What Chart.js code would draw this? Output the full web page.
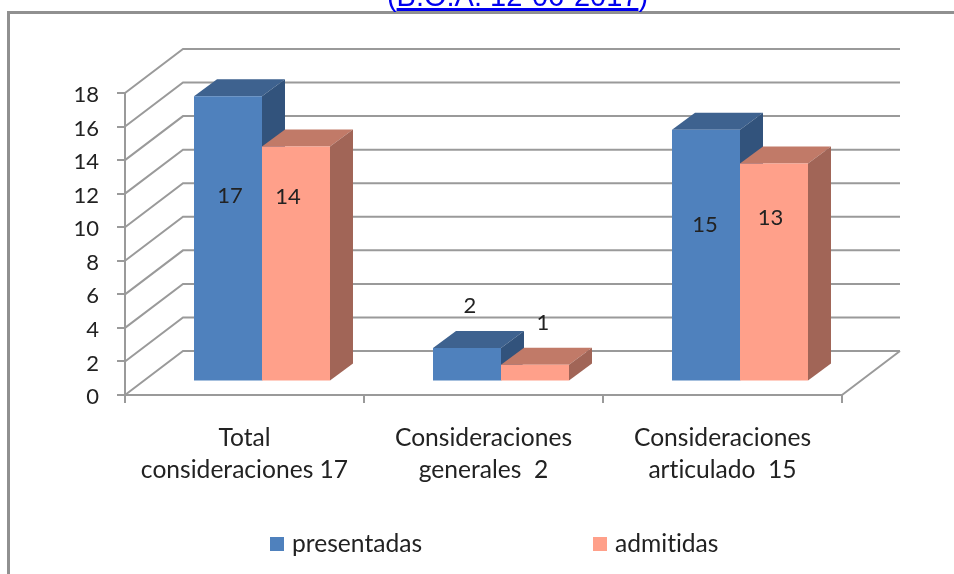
<!DOCTYPE html>
<html>
<head>
<meta charset="utf-8">
<script src="https://cdn.jsdelivr.net/npm/chart.js@4/dist/chart.umd.min.js"></script>
<style>
html, body { margin: 0; padding: 0; background: #fff; overflow: hidden; }
#wrap { position: relative; width: 954px; height: 574px; overflow: hidden; filter: blur(0.4px); }
#frame { position: absolute; left: 7px; top: 11px; width: 960px; height: 580px; border-left: 3px solid #909090; border-top: 3px solid #909090; }
#ref { position: absolute; left: 0; width: 1035px; top: -20px; text-align: center; font: 29px "Liberation Sans", Arial, sans-serif; color: #0000ee; }
#ref a { color: #0000ee; text-decoration: underline; text-decoration-thickness: 3px; text-underline-offset: 2px; }
canvas { position: absolute; left: 0; top: 0; }
#legend { position: absolute; left: 0; top: 0; font: 24.6px Lato, sans-serif; color: #222; font-variant-ligatures: none; }
#legend span { position: absolute; white-space: nowrap; }
#legend i { position: absolute; width: 14px; height: 14px; }
</style>
</head>
<body>
<div id="wrap">
  <div id="frame"></div>
  <div id="ref">(<a href="#">B.O.A. 12-06-2017</a>)</div>
  <canvas id="grafico" width="954" height="574"></canvas>
  <div id="legend"></div>
</div>
<script>
var categorias = [
    ['Total', 'consideraciones 17'],
    ['Consideraciones', 'generales  2'],
    ['Consideraciones', 'articulado  15']
];
var presentadas = [17, 2, 15];
var admitidas = [14, 1, 13];
var marcasY = [0, 2, 4, 6, 8, 10, 12, 14, 16, 18];

// colores: frente, tapa, lateral
var azul = ['#4f81bd', '#3e628f', '#32537c'];
var salmon = ['#ffa08a', '#c17a68', '#a16557'];
var gris = '#9a9a9a';
var texto = '#222';

// profundidad de la pared del fondo y de las barras
var fondoX = 58, fondoY = -44;
var barraX = 17.5, barraY = -13.5;
var ladoX = 23, ladoY = -17;

// las etiquetas estan movidas a mano en el original, desplazamiento desde la tapa
var ajusteX = [[2, 3, -1], [-8, 8, -3.5]];
var ajusteY = [[100, -42, 95], [50, -42, 55]];

function poligono(ctx, color, puntos) {
    ctx.fillStyle = color;
    ctx.beginPath();
    puntos.forEach(function (p, i) {
        if (i == 0) ctx.moveTo(p[0], p[1]);
        else ctx.lineTo(p[0], p[1]);
    });
    ctx.closePath();
    ctx.fill();
}

var paredes = {
    id: 'paredes',
    beforeDraw: function (chart) {
        // sin ligaduras en los textos del canvas
        chart.ctx.textRendering = 'optimizeSpeed';
    },
    beforeDatasetsDraw: function (chart) {
        var ctx = chart.ctx, a = chart.chartArea, y = chart.scales.y;
        ctx.save();
        ctx.strokeStyle = gris;
        ctx.lineWidth = 2;
        ctx.beginPath();
        marcasY.forEach(function (v) {
            var py = y.getPixelForValue(v);
            ctx.moveTo(a.left, py);
            ctx.lineTo(a.left + fondoX, py + fondoY);
            ctx.lineTo(a.right + fondoX, py + fondoY);
        });
        // borde derecho del suelo
        ctx.moveTo(a.right, a.bottom);
        ctx.lineTo(a.right + fondoX, a.bottom + fondoY);
        ctx.stroke();
        ctx.restore();
    }
};

var barras3d = {
    id: 'barras3d',
    // se dibujan aqui porque la libreria pinta la primera serie encima y
    // en el original las admitidas tapan el lateral de las presentadas
    beforeDatasetDraw: function () {
        return false;
    },
    afterDatasetsDraw: function (chart) {
        var ctx = chart.ctx;
        ctx.save();
        ctx.translate(barraX, barraY);
        chart.data.datasets.forEach(function (ds, d) {
            chart.getDatasetMeta(d).data.forEach(function (b) {
                var der = b.x + b.width / 2, izq = b.x - b.width / 2;
                poligono(ctx, ds.caras[1], [[izq, b.y], [izq + ladoX, b.y + ladoY], [der + ladoX, b.y + ladoY], [der, b.y]]);
                poligono(ctx, ds.caras[2], [[der, b.y], [der + ladoX, b.y + ladoY], [der + ladoX, b.base + ladoY], [der, b.base]]);
                b.draw(ctx);
            });
        });
        ctx.restore();

        ctx.save();
        ctx.fillStyle = texto;
        ctx.font = '22px Lato, sans-serif';
        ctx.textAlign = 'center';
        ctx.textBaseline = 'middle';
        chart.data.datasets.forEach(function (ds, d) {
            chart.getDatasetMeta(d).data.forEach(function (b, i) {
                ctx.fillText(String(ds.data[i]), b.x + barraX + ajusteX[d][i], b.y + barraY + ajusteY[d][i]);
            });
        });
        ctx.restore();
    }
};

var ctx = document.getElementById('grafico').getContext('2d');
var myChart = new Chart(ctx, {
    type: 'bar',
    data: {
        labels: categorias,
        datasets: [
            { label: 'presentadas', data: presentadas, backgroundColor: azul[0], caras: azul },
            { label: 'admitidas', data: admitidas, backgroundColor: salmon[0], caras: salmon }
        ]
    },
    options: {
        responsive: false,
        animation: false,
        events: [],
        categoryPercentage: 0.569,
        barPercentage: 1,
        layout: { padding: { top: 93, right: 112, left: 0, bottom: 0 } },
        plugins: { legend: { display: false }, tooltip: { enabled: false } },
        scales: {
            x: {
                afterFit: function (s) { s.height = 179; },
                grid: { offset: true, drawOnChartArea: false, color: gris, lineWidth: 2, tickLength: 8 },
                border: { color: gris, width: 2 },
                ticks: {
                    autoSkip: false, maxRotation: 0, padding: 19, color: texto,
                    font: { family: 'Lato, sans-serif', size: 24.6, lineHeight: 1.3 }
                }
            },
            y: {
                min: 0,
                max: 18,
                afterFit: function (s) { s.width = 125; },
                afterBuildTicks: function (s) { s.ticks = marcasY.map(function (v) { return { value: v }; }); },
                grid: { drawOnChartArea: false, color: gris, lineWidth: 2, tickLength: 8 },
                border: { color: gris, width: 2 },
                ticks: {
                    padding: 18, labelOffset: 2, color: texto,
                    font: { family: 'Lato, sans-serif', size: 22 }
                }
            }
        }
    },
    plugins: [paredes, barras3d]
});

// leyenda a mano: la separacion del original no cabe en la de la libreria
var leyenda = document.getElementById('legend');
var posLeyenda = [270, 593];
myChart.data.datasets.forEach(function (ds, i) {
    var m = document.createElement('i');
    m.style.cssText = 'left:' + posLeyenda[i] + 'px;top:537px;background:' + ds.backgroundColor;
    var t = document.createElement('span');
    t.style.cssText = 'left:' + (posLeyenda[i] + 22) + 'px;top:528px';
    t.textContent = ds.label;
    leyenda.appendChild(m);
    leyenda.appendChild(t);
});
</script>
</body>
</html>
